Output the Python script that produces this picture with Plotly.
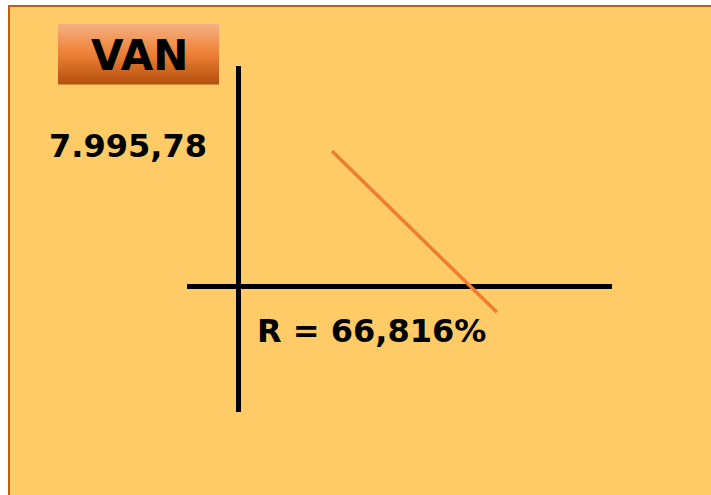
import plotly.graph_objects as go

# Data (schematic NPV profile)
tasa = [26.9, 74.6]          # discount rate, %
van = [7995.78, -1559.0]     # NPV
van_label = "7.995,78"
tir_label = "R = 66,816%"
title_label = "VAN"

W, H = 711, 495
def px(x): return x / W
def py(y): return 1 - y / H

fig = go.Figure()
fig.add_trace(go.Scatter(x=tasa, y=van, mode="lines",
                         line=dict(color="#ED7D31", width=3.5),
                         hoverinfo="skip", showlegend=False))

shapes = [dict(type="rect", xref="paper", yref="paper",
               x0=px(9), x1=px(W + 10), y0=py(H + 10), y1=py(6),
               fillcolor="#FECB67", line=dict(color="#C55A11", width=2),
               layer="below")]

# gradient box for title
def lerp(c1, c2, t):
    return tuple(int(round(a + (b - a) * t)) for a, b in zip(c1, c2))
stops = [(0.0, (244, 177, 131)), (0.5, (237, 128, 52)), (1.0, (180, 80, 14))]
y_top, y_bot = 24, 84
n = 30
for i in range(n):
    t = (i + 0.5) / n
    for (t0, c0), (t1, c1) in zip(stops[:-1], stops[1:]):
        if t0 <= t <= t1:
            c = lerp(c0, c1, (t - t0) / (t1 - t0))
            break
    y0 = y_top + (y_bot - y_top) * i / n
    y1 = y_top + (y_bot - y_top) * (i + 1) / n + 0.5
    shapes.append(dict(type="rect", xref="paper", yref="paper",
                       x0=px(58), x1=px(219), y0=py(y1), y1=py(y0),
                       fillcolor="rgb(%d,%d,%d)" % c, line=dict(width=0),
                       layer="below"))

font = dict(family="DejaVu Sans", color="black")
annotations = [
    dict(text="<b>%s</b>" % title_label, xref="paper", yref="paper",
         x=px(139), y=py(55), showarrow=False, xanchor="center", yanchor="middle",
         font=dict(size=42, **font)),
    dict(text="<b>%s</b>" % van_label, xref="paper", yref="paper",
         x=px(128), y=py(146), showarrow=False, xanchor="center", yanchor="middle",
         font=dict(size=32, **font)),
    dict(text="<b>%s</b>" % tir_label, xref="paper", yref="paper",
         x=px(371), y=py(331), showarrow=False, xanchor="center", yanchor="middle",
         font=dict(size=32, **font)),
]

fig.update_layout(
    width=W, height=H, margin=dict(l=0, r=0, t=0, b=0),
    paper_bgcolor="white", plot_bgcolor="rgba(0,0,0,0)",
    shapes=shapes, annotations=annotations, showlegend=False,
    xaxis=dict(domain=[px(187), px(612)], range=[-15.04, 107.9],
               showgrid=False, showticklabels=False, ticks="",
               zeroline=True, zerolinecolor="black", zerolinewidth=5,
               fixedrange=True),
    yaxis=dict(domain=[py(412), py(66)], range=[-7463, 13030],
               showgrid=False, showticklabels=False, ticks="",
               zeroline=True, zerolinecolor="black", zerolinewidth=5,
               fixedrange=True),
)

fig.write_html("out.html", config={"displayModeBar": False},
               post_script="document.body.style.margin='0';document.body.style.overflow='hidden';")
